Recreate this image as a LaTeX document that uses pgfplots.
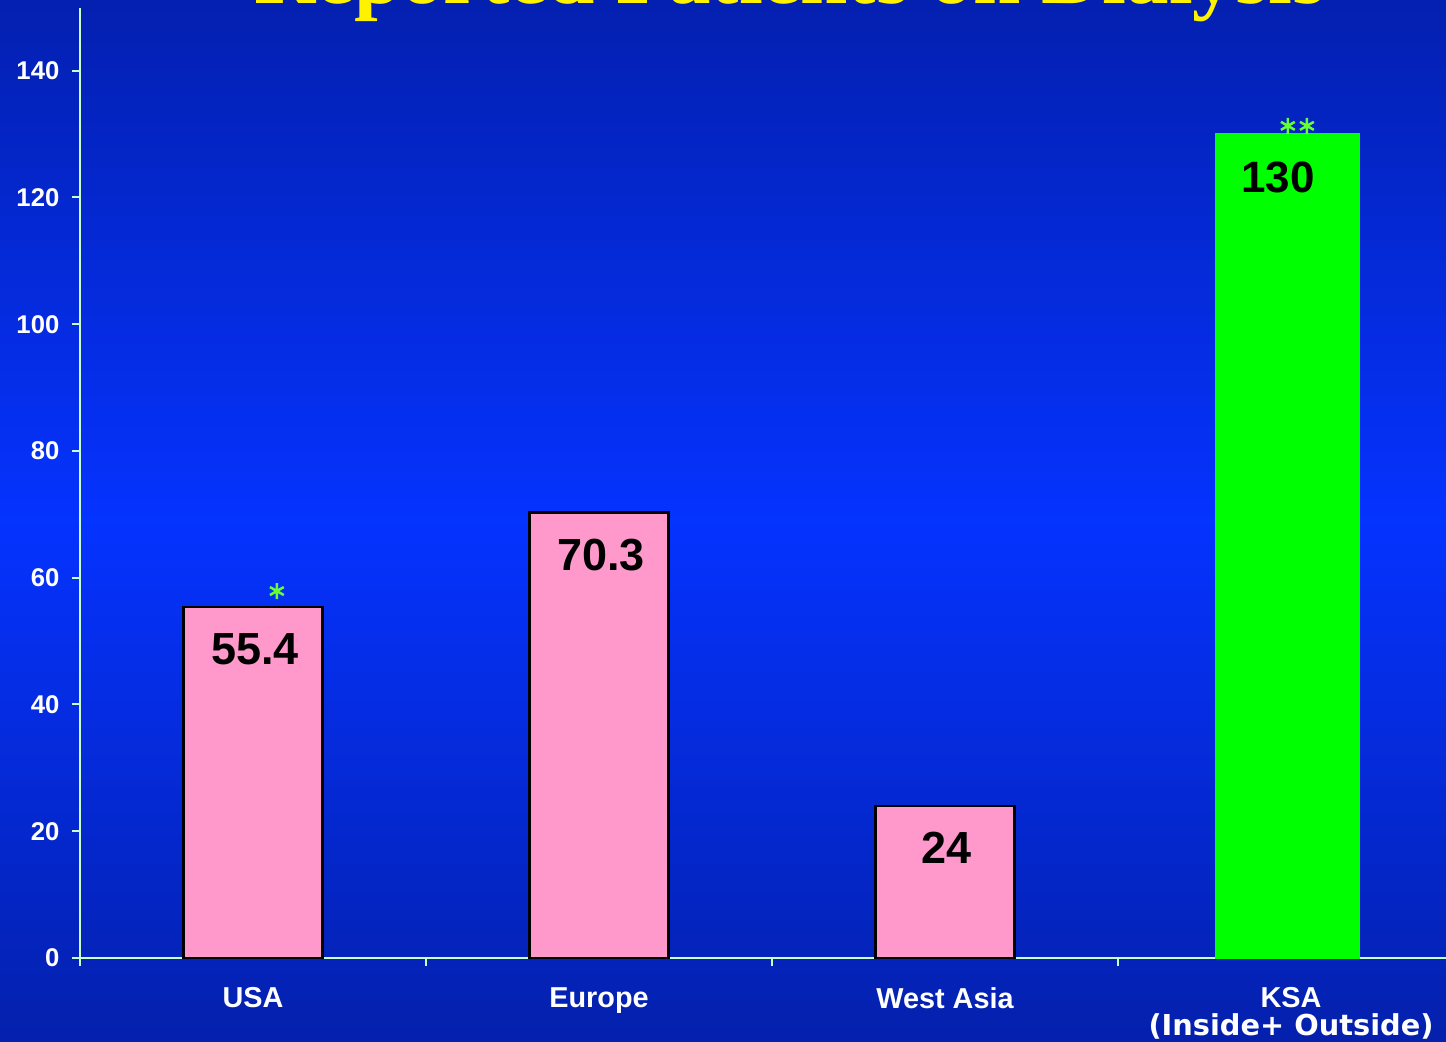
\documentclass[border=0pt]{standalone}
\usepackage{pgfplots}
\pgfplotsset{compat=1.18}
\usepackage{fontspec}
\setmainfont{Liberation Sans}
\newfontfamily\titlefont{Liberation Serif}
\newfontfamily\verdana{DejaVu Sans}
\definecolor{bgtop}{RGB}{4,32,176}
\definecolor{bgmid}{RGB}{5,51,255}
\definecolor{bgbot}{RGB}{4,32,172}
\definecolor{barpink}{RGB}{255,153,204}
\definecolor{ksagreen}{RGB}{0,255,0}
\definecolor{astgreen}{RGB}{102,255,51}
\definecolor{axcol}{RGB}{200,255,200}
\begin{document}
\begin{tikzpicture}[x=0.1mm,y=0.1mm]
\clip (0,0) rectangle (1446,1042);
\shade[top color=bgtop, bottom color=bgbot, middle color=bgmid] (0,0) rectangle (1446,1042);
\node[anchor=base, text=yellow, inner sep=0pt, font=\titlefont\bfseries\fontsize{24.2}{24}\selectfont] at (790,1038) {Reported Patients on Dialysis};
\begin{axis}[
  at={(8mm,8.4mm)}, anchor=south west,
  scale only axis, width=136.6mm, height=95mm,
  xmin=-0.5, xmax=3.448, ymin=0, ymax=149.9,
  axis lines=left,
  axis line style={axcol, line width=0.2mm, -},
  clip=false,
  ytick={0,20,...,140},
  ytick style={axcol, line width=0.2mm},
  tick align=outside,
  major tick length=0.8mm,
  xtick={0,1,2,3},
  xticklabels={USA,Europe,West Asia,{KSA\\{\verdana\bfseries (Inside+ Outside)}}},
  major x tick style={draw=none},
  extra x ticks={-0.5,0.5,1.5,2.5},
  extra x tick labels={},
  extra x tick style={major x tick style={draw=axcol, line width=0.2mm}, major tick length=0.8mm},
  /pgf/number format/assume math mode=true,
  tick label style={white},
  yticklabel style={font=\bfseries\fontsize{7.3}{8}\selectfont, anchor=east, inner sep=0pt, xshift=-1.2mm},
  xticklabel style={font=\bfseries\fontsize{8.2}{8}\selectfont, anchor=north, inner sep=0pt, yshift=-2.1mm, align=center},
]
\addplot[ybar, bar width=13.9mm, bar shift=0pt, fill=barpink, draw=black, line width=0.25mm,
  nodes near coords,
  every node near coord/.append style={black, font=\bfseries\fontsize{12.8}{12}\selectfont, anchor=north, inner sep=0pt, yshift=-2.5mm, xshift=0.2mm}] coordinates {(0,55.4) (1,70.3) (2,24)};
\addplot[ybar, bar width=14.3mm, bar shift=0pt, fill=ksagreen, draw=ksagreen, line width=0.25mm,
  nodes near coords,
  every node near coord/.append style={black, font=\bfseries\fontsize{12.5}{12}\selectfont, anchor=north, inner sep=0pt, yshift=-2.6mm, xshift=-0.95mm}] coordinates {(2.99,130)};
\addplot[only marks, mark=asterisk, mark size=0.8mm, astgreen, line width=0.25mm] coordinates {(0.069,57.9) (2.991,131.3) (3.046,131.3)};
\end{axis}
\end{tikzpicture}
\end{document}
